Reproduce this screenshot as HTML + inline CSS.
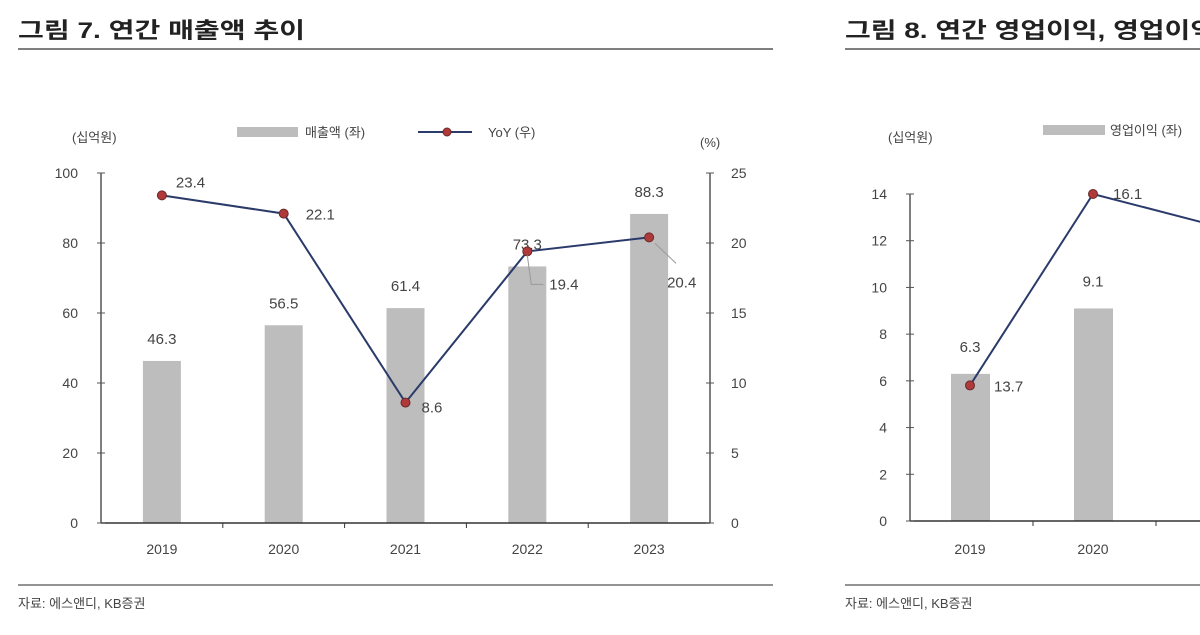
<!DOCTYPE html>
<html><head><meta charset="utf-8"><style>
body{margin:0;background:#fff;width:1200px;height:630px;overflow:hidden;font-family:"Liberation Sans","Noto Sans CJK KR",sans-serif}
svg text{font-family:"Liberation Sans","Noto Sans CJK KR",sans-serif}
</style></head><body>
<svg id="s" width="1200" height="630">
<text x="18" y="38" font-size="22" textLength="287" lengthAdjust="spacingAndGlyphs" font-weight="bold" fill="#222">그림 7. 연간 매출액 추이</text>
<line x1="18" y1="49" x2="773" y2="49" stroke="#555" stroke-width="1.5"/>
<text x="845" y="38" font-size="22" textLength="456" lengthAdjust="spacingAndGlyphs" font-weight="bold" fill="#222">그림 8. 연간 영업이익, 영업이익률 추이</text>
<line x1="845" y1="49" x2="1200" y2="49" stroke="#555" stroke-width="1.5"/>
<line x1="18" y1="585" x2="773" y2="585" stroke="#555" stroke-width="1.2"/>
<line x1="845" y1="585" x2="1200" y2="585" stroke="#555" stroke-width="1.2"/>
<text x="18" y="608" font-size="13" fill="#444">자료: 에스앤디, KB증권</text>
<text x="845" y="608" font-size="13" fill="#444">자료: 에스앤디, KB증권</text>
<text x="72" y="142" font-size="13" fill="#444">(십억원)</text>
<text x="700" y="147" font-size="13" fill="#444">(%)</text>
<rect x="237" y="127" width="61" height="10" fill="#bdbdbd"/>
<text x="305" y="137" font-size="13" fill="#444">매출액 (좌)</text>
<line x1="418" y1="132" x2="472" y2="132" stroke="#2a3a6a" stroke-width="2"/>
<circle cx="447" cy="132" r="4" fill="#b03a3a" stroke="#6a2a2a"/>
<text x="488" y="137" font-size="13" fill="#444">YoY (우)</text>
<text x="888" y="142" font-size="13" fill="#444">(십억원)</text>
<rect x="1043" y="125" width="62" height="10" fill="#bdbdbd"/>
<text x="1110" y="135" font-size="13" fill="#444">영업이익 (좌)</text>
</svg>
<script>
const years=["2019","2020","2021","2022","2023"];
const revenue=[46.3,56.5,61.4,73.3,88.3];
const yoy=[23.4,22.1,8.6,19.4,20.4];
const leftTicks=[0,20,40,60,80,100];
const rightTicks=[0,5,10,15,20,25];
const years2=["2019","2020"];
const opProfit=[6.3,9.1];
const opMargin=[13.7,16.1,15.7];
const leftTicks2=[0,2,4,6,8,10,12,14];

const s=document.getElementById('s');
const NS='http://www.w3.org/2000/svg';
function mk(t,a,txt){const e=document.createElementNS(NS,t);for(const k in a)e.setAttribute(k,a[k]);if(txt!==undefined)e.textContent=txt;s.appendChild(e);return e;}

// chart 7
const X0=101,X1=710,Yb=523,Yt=173;
const xs=i=>X0+(i+0.5)*(X1-X0)/years.length;
const yl=v=>Yb-v/100*(Yb-Yt);
const yr=v=>Yb-v/25*(Yb-Yt);
years.forEach((y,i)=>{
 let b=mk('rect',{x:xs(i)-19,y:yl(revenue[i]),width:38,height:Yb-yl(revenue[i]),fill:'#bdbdbd'});
 
 
 let t=mk('text',{x:xs(i),y:yl(revenue[i])-17,'font-size':15,fill:'#444','text-anchor':'middle'},revenue[i].toFixed(1));
 
 
 let xl=mk('text',{x:xs(i),y:554,'font-size':14,fill:'#444','text-anchor':'middle'},y);
 
 
});
let ax=mk('line',{x1:X0,y1:Yt,x2:X0,y2:Yb,stroke:'#555','stroke-width':1.5});


let ax2=mk('line',{x1:X1,y1:Yt,x2:X1,y2:Yb,stroke:'#555','stroke-width':1.5});


let ax3=mk('line',{x1:X0,y1:Yb,x2:X1,y2:Yb,stroke:'#333','stroke-width':1.5});


leftTicks.forEach(v=>{
 mk('line',{x1:X0-4,y1:yl(v),x2:X0+4,y2:yl(v),stroke:'#555'});
 let t=mk('text',{x:78,y:yl(v)+5,'font-size':14,fill:'#444','text-anchor':'end'},v);
 
 
});
rightTicks.forEach(v=>{
 mk('line',{x1:X1-4,y1:yr(v),x2:X1+4,y2:yr(v),stroke:'#555'});
 let t=mk('text',{x:731,y:yr(v)+5,'font-size':14,fill:'#444'},v);
 
 
});
for(let i=1;i<years.length;i++){const x=X0+i*(X1-X0)/years.length;mk('line',{x1:x,y1:Yb,x2:x,y2:Yb+5,stroke:'#333'});}
let pl=mk('polyline',{points:yoy.map((v,i)=>xs(i)+','+yr(v)).join(' '),fill:'none',stroke:'#2a3a6a','stroke-width':2});


const off=[[14,-8],[22,6],[16,10],[22,38],[18,50]];
yoy.forEach((v,i)=>{
 let c=mk('circle',{cx:xs(i),cy:yr(v),r:4.5,fill:'#b03a3a',stroke:'#6a2a2a'});
 
 
 let t=mk('text',{x:xs(i)+off[i][0],y:yr(v)+off[i][1],'font-size':15,fill:'#444'},v.toFixed(1));
 
 
});
mk('polyline',{points:`${xs(3)},${yr(yoy[3])+4} ${xs(3)+4},${yr(yoy[3])+33} ${xs(3)+16},${yr(yoy[3])+33}`,fill:'none',stroke:'#999'});
mk('line',{x1:xs(4)+6,y1:yr(yoy[4])+6,x2:xs(4)+27,y2:yr(yoy[4])+26,stroke:'#999'});

// chart 8
const P0=910,Pstep=123,Pb=521,Pt=194;
const px=i=>P0+60+i*Pstep;
const pl2=v=>Pb-v/14*(Pb-Pt);
const pr2=v=>Pb-(v-12)/4.1*(Pb-Pt);
years2.forEach((y,i)=>{
 let b=mk('rect',{x:px(i)-19,y:pl2(opProfit[i]),width:39,height:Pb-pl2(opProfit[i]),fill:'#bdbdbd'});
 
 
 let t=mk('text',{x:px(i),y:pl2(opProfit[i])-22,'font-size':15,fill:'#444','text-anchor':'middle'},opProfit[i].toFixed(1));
 
 
 let xl=mk('text',{x:px(i),y:554,'font-size':14,fill:'#444','text-anchor':'middle'},y);
 
 
});
let bx=mk('line',{x1:P0,y1:Pt,x2:P0,y2:Pb,stroke:'#555','stroke-width':1.5});


let bx2=mk('line',{x1:P0,y1:Pb,x2:1200,y2:Pb,stroke:'#333','stroke-width':1.5});


for(let i=1;i<3;i++){mk('line',{x1:P0+i*Pstep,y1:Pb,x2:P0+i*Pstep,y2:Pb+5,stroke:'#333'});}
leftTicks2.forEach(v=>{
 mk('line',{x1:P0-4,y1:pl2(v),x2:P0+4,y2:pl2(v),stroke:'#555'});
 let t=mk('text',{x:887,y:pl2(v)+5,'font-size':14,fill:'#444','text-anchor':'end'},v);
 
 
});
let ml=mk('polyline',{points:opMargin.map((v,i)=>px(i)+','+pr2(v)).join(' '),fill:'none',stroke:'#2a3a6a','stroke-width':2});


opMargin.slice(0,2).forEach((v,i)=>{
 let c=mk('circle',{cx:px(i),cy:pr2(v),r:4.5,fill:'#b03a3a',stroke:'#6a2a2a'});
 
 
 let t=mk('text',{x:px(i)+(i?20:24),y:pr2(v)+(i?5:6),'font-size':15,fill:'#444'},v.toFixed(1));
 
 
});
</script>
</body></html>
